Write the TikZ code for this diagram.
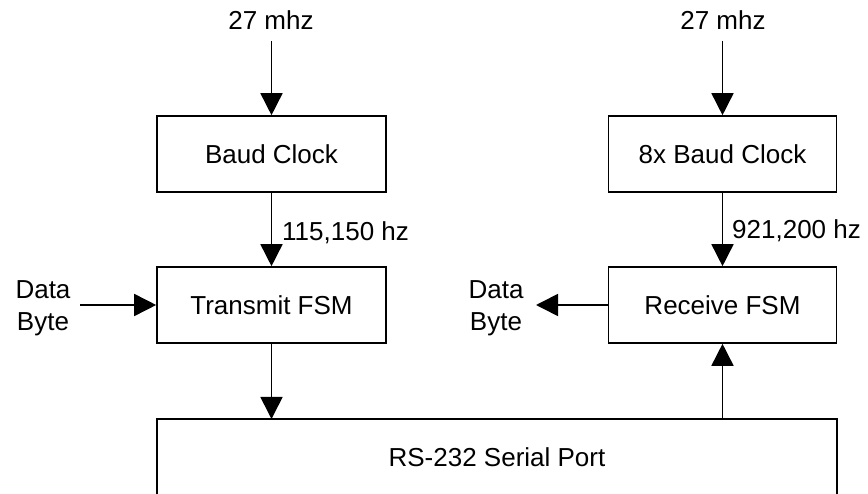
\documentclass[tikz,border=0pt]{standalone}
\usepackage{fontspec}
\setmainfont{Liberation Sans}
\usetikzlibrary{arrows.meta}
\begin{document}
\begin{tikzpicture}[x=1pt,y=-1pt,
  every node/.style={font=\fontsize{26}{32}\selectfont, text=black},
  blockbox/.style={draw=black, line width=1.6pt, minimum width=229pt, minimum height=76pt, inner sep=0pt},
  conn/.style={line width=1.6pt, -{Triangle[length=22pt,width=22pt]}},
  lbl/.style={inner sep=0pt}]
\useasboundingbox (0,0) rectangle (868,494);
\clip (0,0) rectangle (868,494);
% boxes
\node[blockbox] (baud) at (271.5,154) {Baud Clock};
\node[blockbox] (tx) at (271.5,305) {Transmit FSM};
\node[blockbox, minimum width=228pt] (baud8) at (722.5,154) {8x Baud Clock};
\node[blockbox, minimum width=228pt] (rx) at (722.5,305) {Receive FSM};
\draw[line width=1.6pt] (157,419) rectangle (837,520);
\node[lbl] (rs) at (497,457) {RS-232 Serial Port};
\coordinate (rstopL) at (271.5,419);
\coordinate (rstopR) at (722.5,419);
% labels
\node[lbl, anchor=base] (clkL) at (271,30) {27 mhz};
\node[lbl, anchor=base] (clkR) at (723,30) {27 mhz};
\node[lbl, anchor=base west] (fL) at (282,241) {115,150 hz};
\node[lbl, anchor=base west] (fR) at (732,239) {921,200 hz};
\node[lbl, align=center] (dbL) at (43,308) {Data\\Byte};
\node[lbl, align=center] (dbR) at (496,308) {Data\\Byte};
\coordinate (inL) at (271.5,41);
\coordinate (inR) at (722.5,41);
\coordinate (din) at (80,305);
\coordinate (dout) at (536,305);
% connectors
\draw[conn] (inL) -- (baud.north);
\draw[conn] (inR) -- (baud8.north);
\draw[conn] (baud.south) -- (tx.north);
\draw[conn] (baud8.south) -- (rx.north);
\draw[conn] (din) -- (tx.west);
\draw[conn] (rx.west) -- (dout);
\draw[conn] (tx.south) -- (rstopL);
\draw[conn] (rstopR) -- (rx.south);
\end{tikzpicture}
\end{document}
